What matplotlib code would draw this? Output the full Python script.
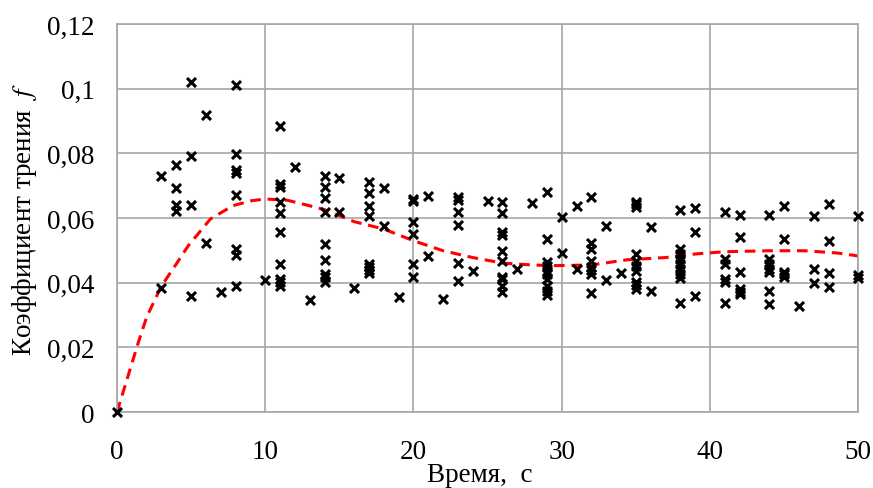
import matplotlib
matplotlib.use("Agg")
import matplotlib.pyplot as plt

# measured friction coefficient, grouped by time (s)
times = [0, 3, 4, 5, 6, 7, 8, 10, 11, 12, 13, 14, 15, 16, 17, 18, 19, 20, 21, 22,
         23, 24, 25, 26, 27, 28, 29, 30, 31, 32, 33, 34, 35, 36, 38, 39, 41, 42,
         44, 45, 46, 47, 48, 50]
values = [
    [0.0],
    [0.0731, 0.0383],
    [0.0764, 0.0692, 0.0640, 0.0623],
    [0.1022, 0.0793, 0.0641, 0.0358],
    [0.0919, 0.0523],
    [0.0373],
    [0.1010, 0.0797, 0.0750, 0.0738, 0.0671, 0.0504, 0.0486, 0.0390],
    [0.0408],
    [0.0886, 0.0705, 0.0697, 0.0650, 0.0615, 0.0556, 0.0458, 0.0411, 0.0401, 0.0390],
    [0.0757],
    [0.0346],
    [0.0731, 0.0695, 0.0661, 0.0618, 0.0520, 0.0470, 0.0427, 0.0418, 0.0401],
    [0.0723, 0.0620],
    [0.0383],
    [0.0712, 0.0677, 0.0638, 0.0607, 0.0458, 0.0448, 0.0438, 0.0430],
    [0.0692, 0.0576],
    [0.0355],
    [0.0659, 0.0654, 0.0589, 0.0551, 0.0458, 0.0417],
    [0.0669, 0.0482],
    [0.0350],
    [0.0665, 0.0655, 0.0618, 0.0578, 0.0461, 0.0406],
    [0.0437],
    [0.0654],
    [0.0649, 0.0615, 0.0556, 0.0548, 0.0499, 0.0468, 0.0418, 0.0412, 0.0391, 0.0372],
    [0.0442],
    [0.0646],
    [0.0681, 0.0535, 0.0463, 0.0452, 0.0437, 0.0427, 0.0411, 0.0391, 0.0375, 0.0362],
    [0.0602, 0.0491],
    [0.0638, 0.0442],
    [0.0666, 0.0523, 0.0504, 0.0468, 0.0448, 0.0438, 0.0427, 0.0368],
    [0.0576, 0.0409],
    [0.0430],
    [0.0649, 0.0642, 0.0635, 0.0489, 0.0468, 0.0452, 0.0437, 0.0402, 0.0392, 0.0381],
    [0.0571, 0.0375],
    [0.0626, 0.0504, 0.0489, 0.0473, 0.0458, 0.0442, 0.0427, 0.0414, 0.0339],
    [0.0630, 0.0556, 0.0358],
    [0.0618, 0.0473, 0.0458, 0.0411, 0.0401, 0.0339],
    [0.0609, 0.0540, 0.0434, 0.0380, 0.0370, 0.0365],
    [0.0609, 0.0473, 0.0458, 0.0442, 0.0433, 0.0375, 0.0334],
    [0.0638, 0.0535, 0.0433, 0.0427, 0.0418],
    [0.0327],
    [0.0605, 0.0444, 0.0399],
    [0.0643, 0.0530, 0.0430, 0.0386],
    [0.0605, 0.0424, 0.0414],
]

# trend line (red dashed)
trend_t = [0, 0.7, 1.4, 2, 3, 4, 4.8, 6.3, 7.8, 9, 10, 11.5, 13, 14, 16, 18, 20, 22,
           24, 26, 28, 29.5, 32, 34.4, 37, 39, 41, 44, 46.4, 48.6, 50]
trend_f = [0, 0.0105, 0.021, 0.0294, 0.039, 0.0458, 0.0514, 0.0597, 0.0638, 0.0653,
           0.0659, 0.0655, 0.0638, 0.0626, 0.0589, 0.0566, 0.053, 0.0499, 0.0478,
           0.0461, 0.0455, 0.0453, 0.0455, 0.0471, 0.0478, 0.0489, 0.0496, 0.0499,
           0.0499, 0.0492, 0.0483]

yticks = [0, 0.02, 0.04, 0.06, 0.08, 0.1, 0.12]
ytick_labels = ["0", "0,02", "0,04", "0,06", "0,08", "0,1", "0,12"]
xticks = [0, 10, 20, 30, 40, 50]

plt.rcParams['font.family'] = ['Liberation Serif', 'DejaVu Serif']
plt.rcParams['mathtext.fontset'] = 'stix'

fig = plt.figure(figsize=(8.73, 4.89), dpi=100)
ax = fig.add_axes([0.134, 0.155, 0.849, 0.794])

t_all = [t for t, vs in zip(times, values) for _ in vs]
f_all = [v for vs in values for v in vs]
ax.scatter(t_all, f_all, marker='x', s=42, c='black', linewidths=2.2, zorder=3,
           clip_on=False)
ax.plot(trend_t, trend_f, color='#ff0000', lw=2.2, dashes=(3.5, 2.2), zorder=2)

ax.set_xlim(0, 50)
ax.set_ylim(0, 0.12)
ax.set_xticks(xticks)
ax.set_yticks(yticks)
ax.set_yticklabels(ytick_labels)
ax.tick_params(length=0, labelsize=19.5)
ax.tick_params(axis='y', pad=16)
ax.tick_params(axis='x', pad=19)
ax.grid(True, color='#a6a6a6', lw=1.2)
ax.set_axisbelow(True)
for s in ax.spines.values():
    s.set_color('#a6a6a6')
    s.set_linewidth(1.2)

ax.set_xlabel("Время,  с", fontsize=19.5)
ax.xaxis.set_label_coords(0.49, -0.128)
ax.set_ylabel("Коэффициент трения  $\\mathit{f}$", fontsize=19.5, labelpad=6)

fig.savefig("out.png", dpi=100)
